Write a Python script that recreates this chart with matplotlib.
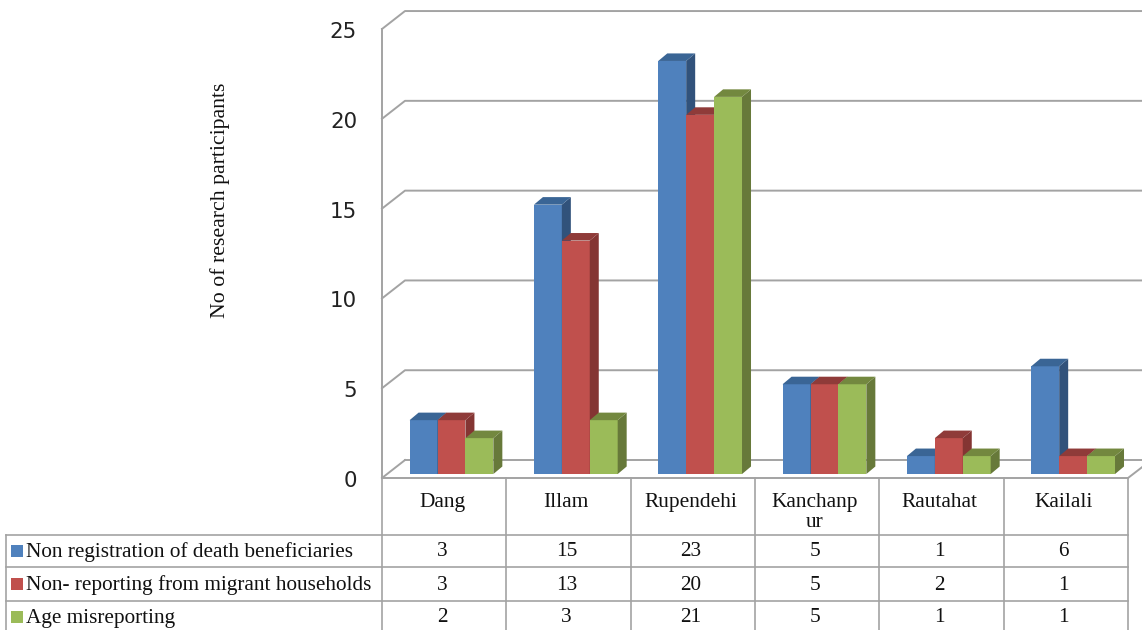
import matplotlib
matplotlib.use('Agg')
import matplotlib.pyplot as plt
import matplotlib.transforms as mtrans

W, H = 1142, 630

districts = ['Dang', 'Illam', 'Rupendehi', 'Kanchanp\nur', 'Rautahat', 'Kailali']
series_names = ['Non registration of death beneficiaries',
                'Non- reporting from migrant households',
                'Age misreporting']
death_reg = [3, 15, 23, 5, 1, 6]
migrant = [3, 13, 20, 5, 2, 1]
age_mis = [2, 3, 21, 5, 1, 1]
y_ticks = [0, 5, 10, 15, 20, 25]

# front, side, top
BLUE = ('#4F81BD', '#31527B', '#3A6595')
RED = ('#C0504D', '#843533', '#8F3B39')
GREEN = ('#9BBB59', '#67793A', '#73883F')
GRID = '#A3A3A3'
SERIF = 'Liberation Serif'

fig = plt.figure(figsize=(W / 100, H / 100), dpi=100)

# main axes = front plane of the 3d box
left, right, top, bottom = 382, 1128, 29, 478
ax = fig.add_axes([left / W, 1 - bottom / H, (right - left) / W, (bottom - top) / H])
ax.set_xlim(0, 6)
ax.set_ylim(0, 25)
ax.patch.set_visible(False)
for s in ax.spines.values():
    s.set_visible(False)
ax.spines['left'].set_visible(True)
ax.spines['left'].set_color(GRID)
ax.spines['left'].set_linewidth(1.4)
ax.spines['bottom'].set_visible(True)
ax.spines['bottom'].set_color(GRID)
ax.spines['bottom'].set_linewidth(1.4)

ax.set_xticks([])
ax.set_yticks(y_ticks)
ax.tick_params(axis='y', length=0, pad=18, labelsize=15.4, labelcolor='#222222')
for lab in ax.get_yticklabels():
    lab.set_transform(lab.get_transform() + mtrans.Affine2D().translate(0, -1))

# depth offsets in data units
wall_dx, wall_dy = 23 / 124.33, 1.0
bar_dx, bar_dy = 9 / 124.33, 0.42
x_end = 6 + 14 / 124.33

for v in y_ticks:
    if v == 0:
        ax.plot([0, wall_dx], [0, wall_dy], color=GRID, lw=1.4, clip_on=False, zorder=1)
        ax.plot([wall_dx, x_end], [wall_dy, wall_dy], color=GRID, lw=1.4, clip_on=False, zorder=1)
        ax.plot([6, x_end], [0, 0.6], color=GRID, lw=1.4, clip_on=False, zorder=1)
    else:
        ax.plot([0, wall_dx, x_end], [v, v + wall_dy, v + wall_dy], color=GRID, lw=1.4,
                clip_on=False, zorder=1)

bar_w = 0.2245
bar_start = 0.222
base = 0.22

for j, (vals, cols) in enumerate(zip([death_reg, migrant, age_mis], [BLUE, RED, GREEN])):
    for i, v in enumerate(vals):
        x0 = i + bar_start + j * bar_w
        x1 = x0 + bar_w
        y1 = base + v
        z = 3 + j
        ax.bar(x0, v, bar_w, bottom=base, align='edge', color=cols[0], lw=0, zorder=z, clip_on=False)
        ax.fill([x1, x1 + bar_dx, x1 + bar_dx, x1],
                [base, base + bar_dy, y1 + bar_dy, y1], color=cols[1], lw=0, zorder=z, clip_on=False)
        ax.fill([x0, x0 + bar_dx, x1 + bar_dx, x1],
                [y1, y1 + bar_dy, y1 + bar_dy, y1], color=cols[2], lw=0, zorder=z, clip_on=False)

# overlay in pixels for the data table
tb = fig.add_axes([0, 0, 1, 1])
tb.set_xlim(0, W)
tb.set_ylim(H, 0)
tb.axis('off')
tb.patch.set_visible(False)

col_x = [382 + i * 124.33 for i in range(7)]
row_y = [535, 567, 601]
for x in col_x:
    tb.plot([x, x], [478, H], color=GRID, lw=1.2)
tb.plot([6, 6], [535, H], color=GRID, lw=1.2)
for y in row_y:
    tb.plot([6, col_x[-1]], [y, y], color=GRID, lw=1.2)

for i, d in enumerate(districts):
    tb.text(col_x[i] + 60, 493, d, family=SERIF, fontsize=15.4, ha='center', va='top',
            linespacing=1.05, color='#111111')

row_c = [552, 585, 618]
for r, (name, vals, cols) in enumerate(zip(series_names, [death_reg, migrant, age_mis], [BLUE, RED, GREEN])):
    tb.scatter([17], [row_c[r] - 1], marker='s', s=70, color=cols[0], lw=0)
    tb.text(26, row_c[r], name, family=SERIF, fontsize=15.3, ha='left', va='center', color='#111111')
    for i, v in enumerate(vals):
        tb.text(col_x[i] + 60, row_c[r], str(v), family=SERIF, fontsize=15.3, ha='center',
                va='center', color='#111111')

tb.text(220, 200, 'No of research participants', family=SERIF, fontsize=15.7, rotation=90,
        ha='center', va='center', color='#111111')

fig.savefig('out.png', dpi=100)
